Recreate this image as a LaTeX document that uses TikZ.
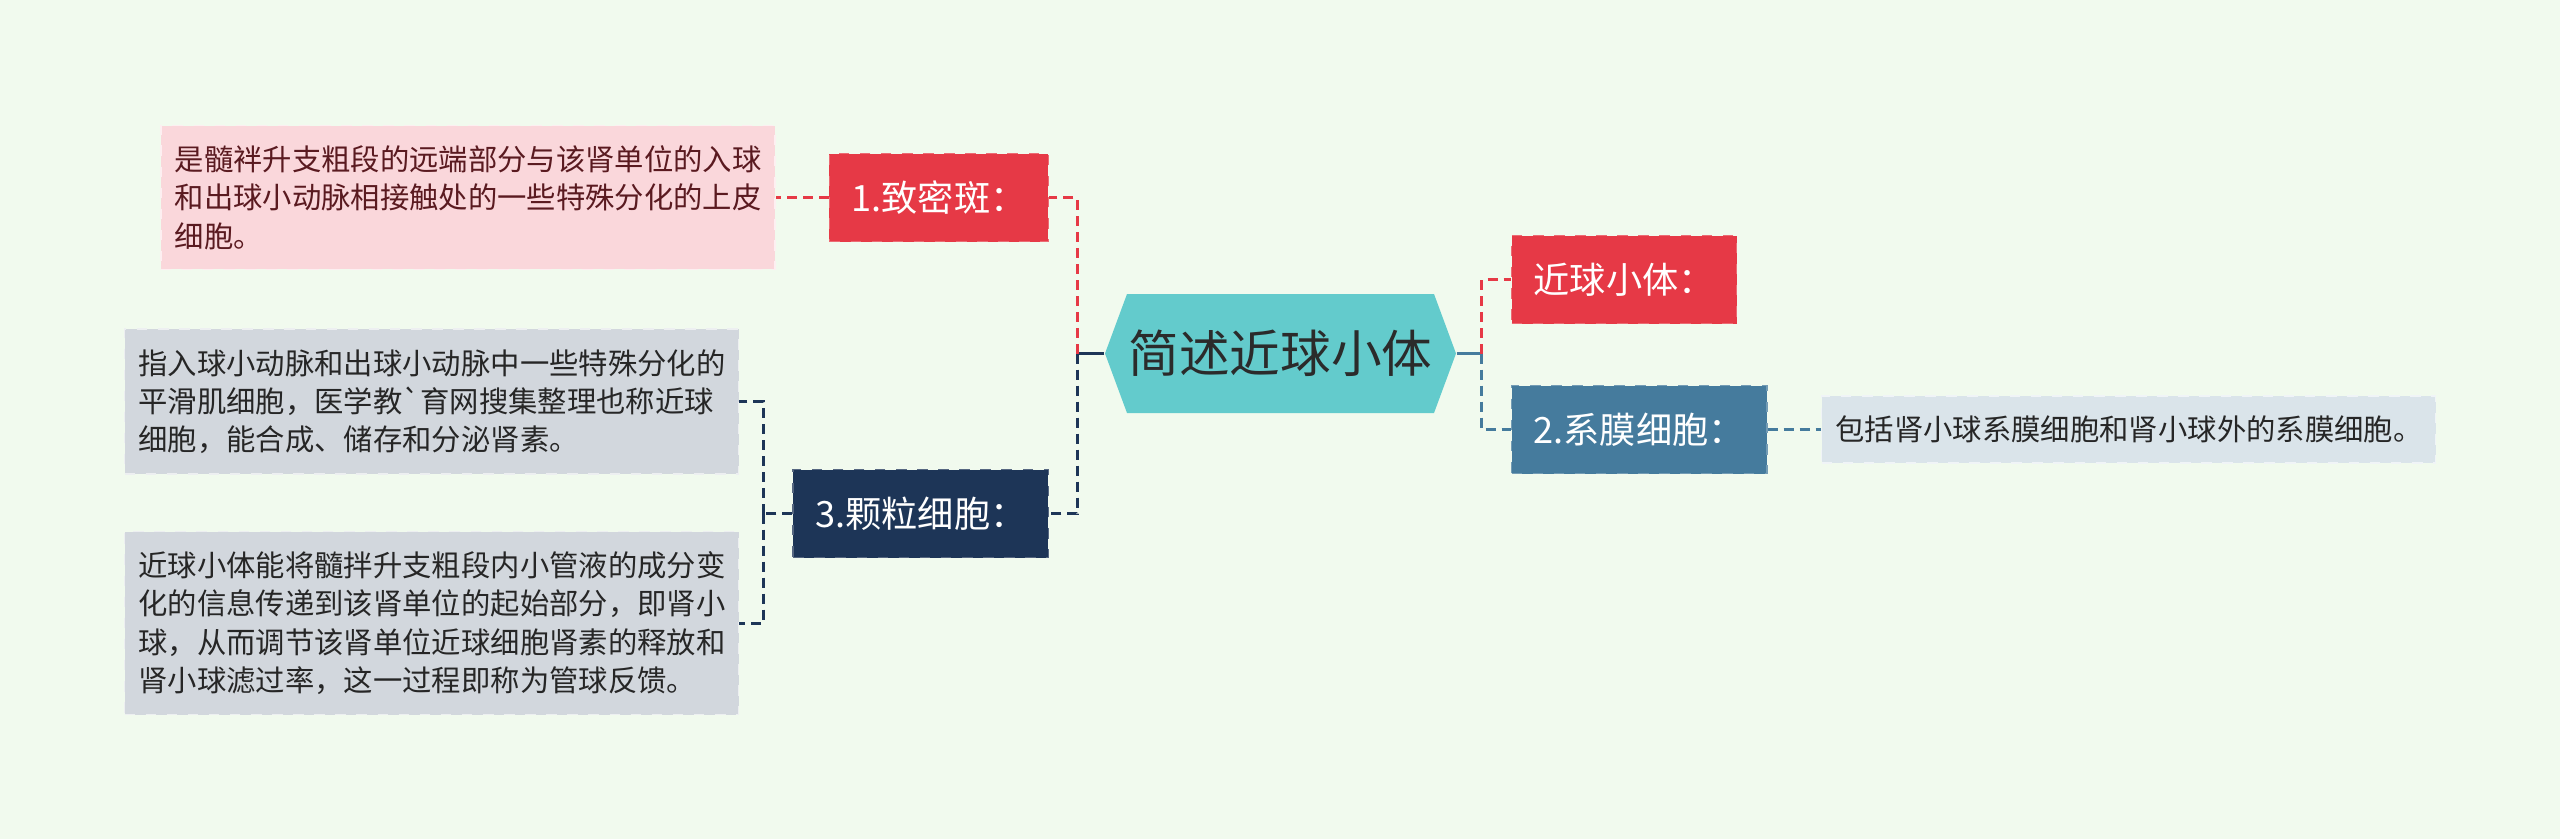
\documentclass[tikz,border=0pt]{standalone}
\usepackage{fontspec}
\newfontfamily\cjk{Noto Sans CJK SC}[Ligatures=TeXOff]
\usetikzlibrary{positioning}

\definecolor{paper}{HTML}{F1FAEE}
\definecolor{hubfill}{HTML}{63CBCC}
\definecolor{hubtext}{HTML}{2B2B2B}
\definecolor{redcol}{HTML}{E63946}
\definecolor{navycol}{HTML}{1D3557}
\definecolor{bluecol}{HTML}{457B9D}
\definecolor{pinkleaf}{HTML}{FAD7DB}
\definecolor{pinktext}{HTML}{5A1A20}
\definecolor{grayleaf}{HTML}{D2D7DD}
\definecolor{blueleaf}{HTML}{DAE4EA}

\begin{document}
\begin{tikzpicture}[
  hub/.style={minimum width=35.1mm, minimum height=11.9mm, inner sep=0pt,
    font=\cjk\fontsize{14.4pt}{17pt}\selectfont, text=hubtext,
    path picture={\fill[hubfill] (path picture bounding box.west)
      -- ([xshift=2.2mm]path picture bounding box.north west)
      -- ([xshift=-2.2mm]path picture bounding box.north east)
      -- (path picture bounding box.east)
      -- ([xshift=-2.2mm]path picture bounding box.south east)
      -- ([xshift=2.2mm]path picture bounding box.south west) -- cycle;}},
  topic/.style={minimum height=8.8mm, inner xsep=2.2mm, inner ysep=0pt, text=white,
    font=\cjk\fontsize{10.3pt}{12pt}\selectfont, dashed, line width=0.5pt},
  leaf/.style={text width=58.6mm, align=left, inner xsep=1.4mm, inner ysep=2mm,
    font=\cjk\fontsize{8.35pt}{10.9pt}\selectfont, dashed, line width=0.5pt},
  link/.style={line width=0.85pt, dash pattern=on 1mm off 0.6mm},
  node distance=5.3mm
]
\fill[paper] (0,0) rectangle (256mm,-83.9mm);
\useasboundingbox (0,0) rectangle (256mm,-83.9mm);

\node[hub] (hub) at (128.05mm,-35.35mm) {简述近球小体};

% right branch
\node[topic, fill=redcol, draw=redcol!75!white, right=5.4mm of hub, yshift=7.4mm] (jq) {近球小体：};
\node[topic, fill=bluecol, draw=bluecol!75!white, right=5.4mm of hub, yshift=-7.6mm] (xm) {2.系膜细胞：};
\node[leaf, fill=blueleaf, draw=white!60!blueleaf, text=black!85, right=of xm] (xmleaf)
  {包括肾小球系膜细胞和肾小球外的系膜细胞。};

% left branch
\node[topic, fill=redcol, draw=redcol!75!white, left=5.5mm of hub, yshift=15.6mm] (zmb) {1.致密斑：};
\node[topic, fill=navycol, draw=navycol!75!white, left=5.5mm of hub, yshift=-16mm] (klx) {3.颗粒细胞：};
\node[leaf, fill=pinkleaf, draw=white!60!pinkleaf, text=pinktext, left=of zmb] (zmbleaf)
  {是髓袢升支粗段的远端部分与该肾单位的入球\\和出球小动脉相接触处的一些特殊分化的上皮\\细胞。};
\node[leaf, fill=grayleaf, draw=white!60!grayleaf, text=black!85, left=of klx, yshift=11.2mm] (klxa)
  {指入球小动脉和出球小动脉中一些特殊分化的\\平滑肌细胞，医学教`育网搜集整理也称近球\\细胞，能合成、储存和分泌肾素。};
\node[leaf, fill=grayleaf, draw=white!60!grayleaf, text=black!85, left=of klx, yshift=-10.95mm] (klxb)
  {近球小体能将髓拌升支粗段内小管液的成分变\\化的信息传递到该肾单位的起始部分，即肾小\\球，从而调节该肾单位近球细胞肾素的释放和\\肾小球滤过率，这一过程即称为管球反馈。};

% connectors
\draw[line width=0.85pt, bluecol] (hub.east) -- ++(2.5mm,0) coordinate (rbar);
\draw[link, redcol] (rbar) |- (jq.west);
\draw[link, bluecol] (rbar) |- (xm.west);
\draw[link, bluecol] (xm.east) -- (xmleaf.west);

\draw[line width=0.85pt, navycol] (hub.west) -- ++(-2.7mm,0) coordinate (lbar);
\draw[link, redcol] (lbar) |- (zmb.east);
\draw[link, navycol] (lbar) |- (klx.east);
\draw[link, redcol] (zmb.west) -- (zmbleaf.east);
\draw[link, navycol] (klx.west) -- ++(-2.9mm,0) coordinate (gbar);
\draw[link, navycol] (gbar) |- (klxa.east);
\draw[link, navycol] (gbar) |- (klxb.east);
\end{tikzpicture}
\end{document}
